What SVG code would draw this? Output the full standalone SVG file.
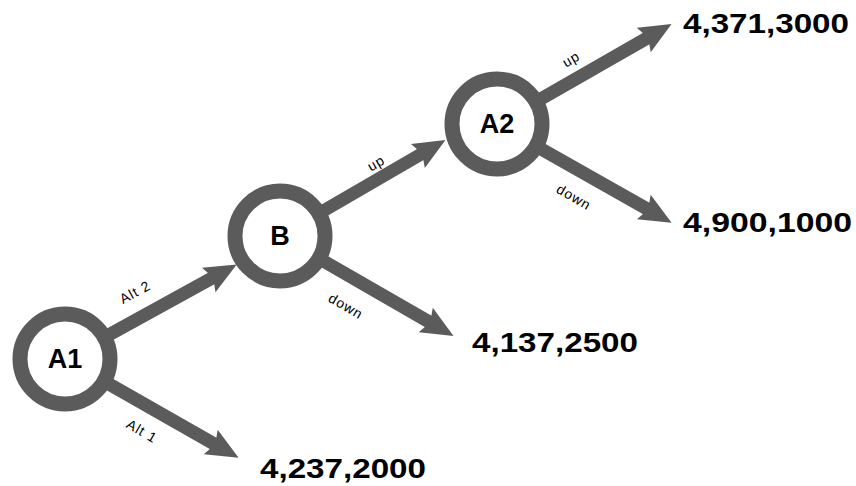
<svg xmlns="http://www.w3.org/2000/svg" width="856" height="486" viewBox="0 0 856 486">
<style>
.c{stroke:#5b5b5b;stroke-width:13;fill:none;marker-end:url(#ah)}
.ring{fill:#fff;stroke:#5b5b5b;stroke-width:15}
.nl{font-family:"Liberation Sans",Arial,sans-serif;font-weight:bold;font-size:27px;fill:#000;text-anchor:middle;dominant-baseline:central}
.el{font-family:"Liberation Sans",Arial,sans-serif;font-size:14px;letter-spacing:1px;fill:#000;text-anchor:middle;dominant-baseline:central}
.val{font-family:"Liberation Sans",Arial,sans-serif;font-weight:bold;font-size:27px;fill:#000}
</style>
<defs>
<marker id="ah" markerUnits="userSpaceOnUse" viewBox="0 0 32 30" markerWidth="32" markerHeight="30" refX="6" refY="15" orient="auto">
<path d="M0,1 L32,15 L0,29 L5,15 Z" fill="#5b5b5b"/>
</marker>
</defs>
<rect width="856" height="486" fill="#fff"/>
<g id="connectors">
<line class="c" x1="65" y1="359" x2="214" y2="277"/>
<line class="c" x1="65" y1="359" x2="216" y2="445"/>
<line class="c" x1="280" y1="236" x2="423" y2="153"/>
<line class="c" x1="280" y1="236" x2="431" y2="323"/>
<line class="c" x1="497" y1="124" x2="649" y2="37"/>
<line class="c" x1="497" y1="124" x2="649" y2="210"/>
<text class="el" transform="translate(135,292) rotate(-29)">Alt 2</text>
<text class="el" transform="translate(142,431) rotate(30)">Alt 1</text>
<text class="el" transform="translate(376,163) rotate(-30)">up</text>
<text class="el" transform="translate(346,306) rotate(30)">down</text>
<text class="el" transform="translate(571,59) rotate(-30)">up</text>
<text class="el" transform="translate(574,197) rotate(30)">down</text>
</g>
<g id="A1"><circle class="ring" cx="65" cy="359" r="45"/><text class="nl" x="65" y="359">A1</text></g>
<g id="B"><circle class="ring" cx="280" cy="236" r="45"/><text class="nl" x="280" y="236">B</text></g>
<g id="A2"><circle class="ring" cx="497" cy="124" r="45"/><text class="nl" x="497" y="124">A2</text></g>
<g id="v1"><text class="val" x="260" y="478" textLength="166" lengthAdjust="spacingAndGlyphs">4,237,2000</text></g>
<g id="v2"><text class="val" x="472" y="352" textLength="166" lengthAdjust="spacingAndGlyphs">4,137,2500</text></g>
<g id="v3"><text class="val" x="683" y="33" textLength="166" lengthAdjust="spacingAndGlyphs">4,371,3000</text></g>
<g id="v4"><text class="val" x="683" y="232" textLength="169" lengthAdjust="spacingAndGlyphs">4,900,1000</text></g>
</svg>
